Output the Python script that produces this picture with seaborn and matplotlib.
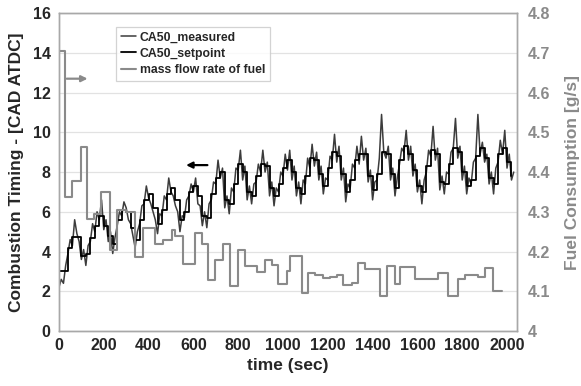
import numpy as np
import matplotlib
matplotlib.use("Agg")
import matplotlib.pyplot as plt
import seaborn as sns

# setpoint levels, one value every 20 s
setpoint = [3.0, 3.0, 4.2, 4.75, 4.75, 3.8, 3.9, 4.7, 5.3, 5.8,
            5.3, 4.8, 4.4, 5.6, 6.1, 6.0, 5.2, 4.6, 5.6, 6.6,
            6.9, 6.2, 5.4, 6.1, 6.9, 7.2, 6.6, 5.6, 6.0, 7.0,
            7.3, 6.8, 5.8, 5.7, 6.9, 7.7, 8.0, 6.6, 6.4, 7.4,
            8.4, 8.0, 7.0, 6.8, 7.8, 8.4, 8.3, 7.2, 6.8, 7.4,
            8.2, 8.6, 8.0, 7.2, 6.9, 7.8, 8.7, 8.6, 7.9, 7.3,
            8.2, 9.0, 8.8, 7.9, 7.0, 7.6, 8.6, 8.9, 8.9, 7.8,
            7.1, 7.9, 9.0, 8.9, 7.9, 7.2, 8.6, 9.3, 8.9, 8.1,
            7.3, 7.0, 8.3, 9.1, 8.9, 7.5, 7.4, 8.4, 9.2, 9.0,
            8.0, 7.3, 7.6, 8.8, 9.2, 8.7, 7.7, 7.4, 8.9, 9.2,
            8.5, 7.8]

# measured CA50, one value every 10 s
measured = [2.2, 2.6, 2.4, 3.3, 3.9, 4.6, 4.3, 5.6, 4.9, 4.5,
            3.6, 4.1, 3.3, 4.3, 4.5, 5.4, 5.0, 6.0, 5.6, 6.6,
            5.1, 5.6, 4.5, 5.0, 3.9, 4.7, 5.3, 6.0, 5.8, 6.5,
            6.2, 5.6, 5.4, 4.8, 4.2, 5.0, 5.4, 6.3, 6.4, 7.3,
            6.7, 6.4, 6.0, 5.6, 4.9, 5.9, 5.8, 6.8, 6.6, 7.7,
            7.0, 6.8, 6.3, 6.0, 5.0, 5.8, 5.7, 6.6, 6.8, 7.4,
            7.0, 7.7, 6.4, 6.3, 5.3, 6.0, 5.2, 6.4, 6.6, 7.5,
            7.4, 8.6, 7.7, 8.2, 6.2, 6.8, 5.9, 7.2, 7.0, 8.2,
            8.1, 9.1, 7.6, 8.3, 6.6, 7.3, 6.4, 7.4, 7.5, 8.4,
            8.0, 9.1, 8.0, 8.5, 6.8, 7.5, 6.3, 7.2, 7.0, 8.0,
            7.8, 8.9, 8.1, 9.1, 7.6, 8.3, 6.8, 7.5, 6.4, 7.6,
            7.4, 8.7, 8.2, 9.4, 8.3, 9.0, 7.6, 8.3, 6.9, 7.7,
            7.6, 8.8, 8.6, 9.9, 8.5, 9.3, 7.6, 8.2, 6.5, 7.4,
            7.2, 8.4, 8.2, 9.3, 8.4, 9.8, 8.6, 9.2, 7.5, 8.1,
            6.6, 7.5, 7.6, 8.7, 10.9, 9.0, 8.7, 9.3, 7.6, 8.2,
            6.8, 7.7, 8.4, 9.2, 9.0, 10.1, 8.6, 9.3, 7.8, 8.4,
            7.0, 7.6, 6.4, 7.6, 8.0, 9.1, 8.8, 10.3, 8.6, 9.2,
            7.1, 7.8, 6.9, 8.0, 7.9, 9.0, 9.2, 10.7, 8.7, 9.3,
            7.6, 8.3, 6.9, 7.7, 7.4, 8.5, 8.7, 10.9, 8.9, 9.5,
            8.5, 8.9, 7.4, 8.0, 6.9, 8.2, 8.5, 9.6, 8.9, 10.1,
            8.2, 8.9, 7.6, 8.0]

# fuel mass flow, step start times (s) and values (g/s)
fuel_t = [0, 25, 59, 98, 127, 156, 186, 228, 260, 300, 339, 375, 429, 464, 504,
          518, 555, 607, 637, 667, 696, 734, 763, 801, 830, 882, 920, 949, 979, 1016,
          1031, 1083, 1113, 1143, 1180, 1210, 1240, 1269, 1306, 1336, 1366, 1433, 1463,
          1500, 1522, 1589, 1649, 1693, 1738, 1783, 1813, 1872, 1902, 1939, 1976]
fuel_val = [4.705, 4.336, 4.377, 4.462, 4.283, 4.295, 4.35, 4.204, 4.305, 4.30,
            4.185, 4.26, 4.22, 4.228, 4.255, 4.238, 4.168, 4.247, 4.22, 4.128,
            4.178, 4.22, 4.113, 4.205, 4.163, 4.148, 4.178, 4.165, 4.118, 4.15,
            4.19, 4.095, 4.145, 4.14, 4.133, 4.135, 4.14, 4.115, 4.12, 4.172,
            4.157, 4.088, 4.163, 4.118, 4.16, 4.132, 4.13, 4.147, 4.088, 4.132,
            4.14, 4.137, 4.158, 4.10, 4.10]

t_sp = np.arange(len(setpoint)) * 20
t_meas = np.arange(len(measured)) * 10

sns.set_theme(style="white")
plt.rcParams['font.family'] = ['Liberation Sans', 'DejaVu Sans']
plt.rcParams['font.weight'] = 'bold'

fig = plt.figure(figsize=(5.81, 3.86), dpi=100)
ax = fig.add_axes([0.1015, 0.1425, 0.7885, 0.8235])
ax2 = ax.twinx()

spine_c = '#a8a8a8'
grey = '#8a8a8a'

sns.lineplot(x=t_meas, y=measured, ax=ax, color='#3c3c3c', lw=1.1,
             label='CA50_measured', legend=False)
sns.lineplot(x=t_sp, y=setpoint, ax=ax, color='black', lw=1.3,
             drawstyle='steps-post', label='CA50_setpoint', legend=False)
sns.lineplot(x=fuel_t, y=fuel_val, ax=ax2, color=grey, lw=1.5,
             drawstyle='steps-post', label='mass flow rate of fuel', legend=False)

ax.set_xlim(0, 2045)
ax.set_ylim(0, 16)
ax2.set_ylim(4, 4.8)
ax.set_xticks(range(0, 2001, 200))
ax.set_yticks(range(0, 17, 2))
ax2.set_yticks([4, 4.1, 4.2, 4.3, 4.4, 4.5, 4.6, 4.7, 4.8])
ax2.set_yticklabels(['4', '4.1', '4.2', '4.3', '4.4', '4.5', '4.6', '4.7', '4.8'])

ax.yaxis.grid(True, color='#e2e2e2', lw=0.9)
ax.set_axisbelow(True)
for a in (ax, ax2):
    for s in a.spines.values():
        s.set_color(spine_c)
        s.set_linewidth(1.0)

ax.tick_params(axis='x', direction='in', length=4, color=spine_c, labelsize=11.5, pad=5)
ax.tick_params(axis='y', length=0, labelsize=11.5, pad=6)
ax2.tick_params(axis='y', length=0, labelsize=11.5, labelcolor=grey, pad=8)

ax.set_xlabel('time (sec)', fontsize=12.5, fontweight='bold', labelpad=4)
ax.set_ylabel('Combustion Timing - [CAD ATDC]', fontsize=12.5, fontweight='bold', labelpad=6)
ax2.set_ylabel('Fuel Consumption [g/s]', fontsize=12.5, fontweight='bold', color=grey, labelpad=10)

h1, l1 = ax.get_legend_handles_labels()
h2, l2 = ax2.get_legend_handles_labels()
leg = ax2.legend(h1 + h2, l1 + l2, loc='upper left', bbox_to_anchor=(0.112, 0.977),
                 fontsize=8.8, frameon=True, fancybox=False, handlelength=1.2,
                 handletextpad=0.3, borderpad=0.4, labelspacing=0.35)
leg.get_frame().set_edgecolor('#c8c8c8')
leg.get_frame().set_linewidth(0.9)
for txt in leg.get_texts():
    txt.set_fontweight('bold')

# direction arrows
ax.annotate('', xy=(140, 12.7), xytext=(22, 12.7),
            arrowprops=dict(arrowstyle='-|>', color=grey, lw=1.6, mutation_scale=9))
ax.annotate('', xy=(555, 8.35), xytext=(675, 8.35),
            arrowprops=dict(arrowstyle='-|>', color='black', lw=1.6, mutation_scale=9))

fig.savefig('out.png', dpi=100)
